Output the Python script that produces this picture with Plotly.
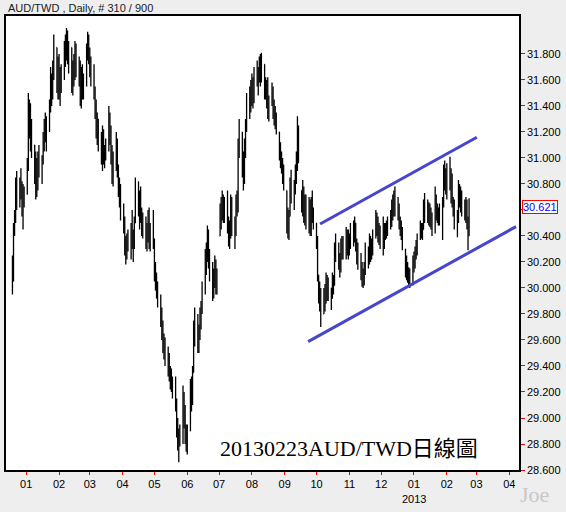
import pandas as pd
import plotly.graph_objects as go

# ---- data ----
dates = pd.bdate_range('2011-12-19', '2013-02-22')  # 310 daily bars

highs_m = [
    # Dec 2011
    [30.25, 30.50, 30.60, 30.85, 30.90, 30.85, 30.92, 30.82, 30.80, 30.78],
    # Jan 2012
    [31.00, 31.50, 31.45, 31.42, 31.30, 31.10, 31.05, 31.00, 31.05, 31.10, 31.02,
     31.20, 31.30, 31.35, 31.32, 31.45, 31.70, 31.65, 31.75, 31.95, 31.85, 31.78],
    # Feb
    [31.80, 31.70, 31.72, 31.90, 31.95, 32.00, 31.98, 31.90, 31.85, 31.75, 31.80,
     31.90, 31.88, 31.78, 31.75, 31.70, 31.72, 31.65, 31.88, 31.97, 31.95],
    # Mar
    [31.85, 31.78, 31.72, 31.55, 31.45, 31.35, 31.30, 31.20, 31.25, 31.22, 31.10,
     31.15, 31.40, 31.35, 31.25, 31.10, 31.05, 31.20, 31.15, 30.95, 30.85, 30.80],
    # Apr
    [30.65, 30.55, 30.40, 30.42, 30.45, 30.50, 30.60, 30.45, 30.55, 30.85, 30.82,
     30.75, 30.78, 30.62, 30.58, 30.55, 30.50, 30.60, 30.62, 30.50, 30.60],
    # May
    [30.38, 30.20, 30.12, 30.05, 29.95, 29.85, 29.75, 29.65, 29.62, 29.55, 29.50,
     29.40, 29.38, 29.32, 29.32, 29.15, 29.00, 28.92, 28.95, 29.25, 29.20, 29.10, 28.95],
    # Jun
    [28.95, 29.30, 29.32, 29.40, 29.75, 29.85, 29.80, 29.72, 29.85, 29.90, 30.05,
     30.30, 30.35, 30.48, 30.45, 30.30, 30.20, 30.15, 30.25, 30.22, 30.15],
    # Jul
    [30.65, 30.70, 30.75, 30.72, 30.70, 30.75, 30.55, 30.52, 30.72, 30.70, 30.55,
     30.72, 30.75, 31.15, 31.30, 31.20, 31.05, 31.15, 31.30, 31.50, 31.55, 31.60],
    # Aug
    [31.65, 31.62, 31.70, 31.75, 31.70, 31.78, 31.80, 31.81, 31.72, 31.62, 31.60,
     31.62, 31.48, 31.58, 31.55, 31.45, 31.40, 31.35, 31.20, 31.12, 31.05, 31.00, 30.95],
    # Sep
    [30.75, 30.62, 30.60, 30.85, 30.91, 30.83, 30.95, 31.05, 31.32, 31.25,
     30.75, 30.83, 30.78, 30.72, 30.72, 30.70, 30.68, 30.70, 30.75, 30.62],
    # Oct
    [30.50, 30.40, 30.10, 30.05, 30.00, 30.00, 30.03, 30.12, 30.10, 30.08, 30.00,
     30.12, 30.10, 30.35, 30.42, 30.35, 30.27, 30.38, 30.40, 30.40, 30.47, 30.45, 30.45],
    # Nov
    [30.42, 30.50, 30.52, 30.55, 30.50, 30.38, 30.35, 30.27, 30.20, 30.15, 30.20,
     30.35, 30.32, 30.42, 30.40, 30.38, 30.45, 30.60, 30.58, 30.55, 30.50, 30.48],
    # Dec
    [30.55, 30.50, 30.50, 30.52, 30.55, 30.60, 30.68, 30.72, 30.75, 30.78, 30.70,
     30.65, 30.55, 30.52, 30.47, 30.30, 30.25, 30.20, 30.16, 30.15, 30.25],
    # Jan 2013
    [30.28, 30.32, 30.37, 30.42, 30.52, 30.50, 30.50, 30.68, 30.73, 30.68, 30.66,
     30.65, 30.62, 30.58, 30.78, 30.72, 30.65, 30.62, 30.65, 30.70, 30.95, 30.98, 30.92],
    # Feb 2013
    [30.96, 31.01, 30.92, 30.88, 30.70, 30.68, 30.60, 30.83, 30.80, 30.78, 30.75,
     30.68, 30.70, 30.68, 30.55, 30.69],
]

lows_m = [
    [29.95, 30.05, 30.40, 30.50, 30.60, 30.62, 30.68, 30.55, 30.45, 30.62],
    [30.72, 30.90, 31.15, 31.05, 31.00, 30.80, 30.68, 30.70, 30.75, 30.85, 30.80,
     30.95, 31.05, 31.12, 31.05, 31.20, 31.35, 31.40, 31.45, 31.60, 31.50, 31.45],
    [31.45, 31.40, 31.50, 31.60, 31.70, 31.75, 31.72, 31.65, 31.50, 31.48, 31.55,
     31.60, 31.62, 31.55, 31.40, 31.38, 31.45, 31.45, 31.55, 31.75, 31.72],
    [31.62, 31.55, 31.45, 31.30, 31.15, 31.10, 31.05, 30.95, 30.90, 30.95, 30.92,
     30.98, 31.05, 31.10, 30.95, 30.80, 30.78, 30.90, 30.85, 30.70, 30.62, 30.52],
    [30.42, 30.25, 30.18, 30.22, 30.28, 30.22, 30.30, 30.20, 30.30, 30.50, 30.55,
     30.45, 30.50, 30.40, 30.38, 30.30, 30.28, 30.35, 30.30, 30.28, 30.30],
    [30.05, 29.98, 29.92, 29.85, 29.70, 29.60, 29.50, 29.45, 29.40, 29.32, 29.28,
     29.22, 29.20, 29.15, 29.05, 28.85, 28.75, 28.66, 28.78, 28.80, 28.92, 28.80, 28.74],
    [28.72, 28.90, 29.05, 29.10, 29.35, 29.55, 29.50, 29.50, 29.60, 29.68, 29.80,
     29.95, 30.10, 30.20, 30.15, 30.05, 29.90, 29.92, 30.00, 29.95, 29.95],
    [30.40, 30.45, 30.52, 30.50, 30.50, 30.42, 30.32, 30.30, 30.38, 30.40, 30.30,
     30.40, 30.55, 30.58, 31.00, 30.85, 30.75, 30.80, 31.00, 31.20, 31.30, 31.35],
    [31.40, 31.38, 31.42, 31.55, 31.48, 31.58, 31.55, 31.58, 31.45, 31.45, 31.38,
     31.30, 31.28, 31.40, 31.30, 31.25, 31.22, 31.18, 30.98, 30.92, 30.88, 30.80, 30.75],
    [30.42, 30.38, 30.37, 30.55, 30.65, 30.60, 30.72, 30.80, 30.90, 30.96,
     30.58, 30.55, 30.50, 30.48, 30.45, 30.42, 30.40, 30.40, 30.50, 30.45],
    [30.30, 30.05, 29.88, 29.82, 29.70, 29.80, 29.82, 29.88, 29.90, 29.90, 29.83,
     29.92, 29.95, 30.02, 30.20, 30.14, 30.08, 30.12, 30.22, 30.22, 30.22, 30.25, 30.22],
    [30.25, 30.30, 30.32, 30.35, 30.28, 30.18, 30.14, 30.06, 30.01, 30.00, 30.02,
     30.10, 30.15, 30.18, 30.20, 30.22, 30.25, 30.38, 30.40, 30.35, 30.33, 30.30],
    [30.25, 30.30, 30.37, 30.38, 30.40, 30.45, 30.47, 30.52, 30.55, 30.55, 30.52,
     30.45, 30.40, 30.37, 30.29, 30.08, 30.06, 30.04, 30.02, 30.00, 30.02],
    [30.12, 30.15, 30.22, 30.25, 30.37, 30.38, 30.37, 30.45, 30.50, 30.50, 30.48,
     30.47, 30.45, 30.40, 30.42, 30.52, 30.50, 30.48, 30.48, 30.37, 30.62, 30.75, 30.72],
    [30.68, 30.75, 30.65, 30.62, 30.55, 30.45, 30.39, 30.50, 30.62, 30.58, 30.55,
     30.52, 30.50, 30.45, 30.29, 30.40],
]

closes_m = [
    [30.10, 30.45, 30.55, 30.78, 30.70, 30.80, 30.72, 30.60, 30.70, 30.72],
    [30.95, 31.40, 31.30, 31.25, 31.10, 30.90, 30.85, 30.80, 31.00, 30.95, 30.98,
     31.15, 31.25, 31.20, 31.28, 31.40, 31.60, 31.50, 31.70, 31.85, 31.60, 31.70],
    [31.55, 31.65, 31.62, 31.85, 31.80, 31.95, 31.78, 31.85, 31.60, 31.70, 31.65,
     31.85, 31.70, 31.72, 31.50, 31.60, 31.55, 31.58, 31.85, 31.92, 31.80],
    [31.68, 31.70, 31.50, 31.35, 31.25, 31.30, 31.12, 31.05, 31.15, 31.00, 31.05,
     31.10, 31.30, 31.20, 31.02, 30.90, 30.98, 31.10, 30.90, 30.80, 30.70, 30.60],
    [30.50, 30.30, 30.25, 30.38, 30.35, 30.45, 30.35, 30.40, 30.50, 30.80, 30.62,
     30.70, 30.55, 30.48, 30.50, 30.35, 30.45, 30.55, 30.38, 30.45, 30.35],
    [30.10, 30.05, 29.98, 29.90, 29.75, 29.68, 29.55, 29.58, 29.48, 29.40, 29.35,
     29.30, 29.25, 29.28, 29.10, 28.90, 28.80, 28.85, 28.82, 29.15, 29.00, 28.85, 28.80],
    [28.90, 29.25, 29.15, 29.35, 29.65, 29.78, 29.60, 29.68, 29.80, 29.85, 29.98,
     30.20, 30.28, 30.40, 30.22, 30.10, 30.05, 30.10, 30.18, 30.00, 30.10],
    [30.55, 30.62, 30.60, 30.68, 30.55, 30.50, 30.40, 30.45, 30.65, 30.48, 30.40,
     30.70, 30.60, 31.10, 31.20, 30.90, 30.95, 31.10, 31.25, 31.40, 31.45, 31.50],
    [31.60, 31.45, 31.65, 31.60, 31.65, 31.72, 31.62, 31.75, 31.55, 31.52, 31.45,
     31.40, 31.42, 31.50, 31.35, 31.30, 31.28, 31.22, 31.05, 30.98, 30.95, 30.85, 30.80],
    [30.50, 30.45, 30.55, 30.80, 30.70, 30.78, 30.90, 30.98, 31.20, 31.00,
     30.65, 30.75, 30.55, 30.62, 30.55, 30.60, 30.48, 30.62, 30.55, 30.50],
    [30.35, 30.10, 29.92, 29.90, 29.78, 29.92, 29.88, 30.05, 29.95, 30.00, 29.90,
     30.05, 30.02, 30.28, 30.30, 30.20, 30.15, 30.32, 30.30, 30.35, 30.40, 30.30, 30.38],
    [30.35, 30.45, 30.40, 30.50, 30.32, 30.22, 30.20, 30.10, 30.05, 30.10, 30.15,
     30.30, 30.22, 30.35, 30.28, 30.32, 30.40, 30.55, 30.50, 30.42, 30.45, 30.40],
    [30.45, 30.38, 30.45, 30.48, 30.50, 30.55, 30.62, 30.65, 30.70, 30.60, 30.62,
     30.50, 30.45, 30.40, 30.32, 30.12, 30.15, 30.08, 30.10, 30.05, 30.20],
    [30.22, 30.28, 30.32, 30.38, 30.48, 30.42, 30.45, 30.62, 30.58, 30.62, 30.55,
     30.60, 30.50, 30.45, 30.70, 30.58, 30.55, 30.58, 30.52, 30.65, 30.88, 30.85, 30.80],
    [30.90, 30.80, 30.85, 30.68, 30.60, 30.50, 30.55, 30.75, 30.70, 30.65, 30.62,
     30.60, 30.58, 30.50, 30.40, 30.621],
]
first_open = 30.05

month_ticks = ['2012-01-01', '2012-02-01', '2012-03-01', '2012-04-01', '2012-05-01',
               '2012-06-01', '2012-07-01', '2012-08-01', '2012-09-01', '2012-10-01',
               '2012-11-01', '2012-12-01', '2013-01-01', '2013-02-01', '2013-03-01',
               '2013-04-01']
month_labels = ['01', '02', '03', '04', '05', '06', '07', '08', '09', '10', '11', '12',
                '01', '02', '03', '04']

price_ticks = [28.6, 28.8, 29.0, 29.2, 29.4, 29.6, 29.8, 30.0, 30.2, 30.4, 30.6,
               30.8, 31.0, 31.2, 31.4, 31.6, 31.8]
# the 30.600 label is covered by the last-price box in the reference
price_labels = ['28.600', '28.800', '29.000', '29.200', '29.400', '29.600', '29.800',
                '30.000', '30.200', '30.400', '', '30.800', '31.000', '31.200',
                '31.400', '31.600', '31.800']

upper_x = ['2012-10-04 09:00', '2013-03-01 08:00']
upper_y = [30.492, 31.159]
lower_x = ['2012-09-23 02:00', '2013-04-07 07:00']
lower_y = [29.587, 30.472]

last_price = 30.621

# ---- assemble ----
highs = [v for m in highs_m for v in m]
lows = [v for m in lows_m for v in m]
closes = [v for m in closes_m for v in m]
prev = [first_open] + closes[:-1]
opens = [min(max(p, l), h) for p, l, h in zip(prev, lows, highs)]

fig = go.Figure()
fig.add_trace(go.Ohlc(
    x=dates, open=opens, high=highs, low=lows, close=closes,
    increasing=dict(line=dict(color='black', width=1.3)),
    decreasing=dict(line=dict(color='black', width=1.3)),
    tickwidth=0.5, showlegend=False, hoverinfo='skip'))

for xs, ys in ((upper_x, upper_y), (lower_x, lower_y)):
    fig.add_trace(go.Scatter(x=xs, y=ys, mode='lines',
                             line=dict(color='#4646CC', width=3),
                             showlegend=False, hoverinfo='skip'))

axis_font = dict(family='Liberation Sans, Arial, sans-serif', size=11, color='black')

fig.update_layout(
    width=566, height=512,
    margin=dict(l=4, r=47, t=16, b=42),
    paper_bgcolor='#EEEEEE', plot_bgcolor='white',
    showlegend=False,
    font=axis_font,
    xaxis=dict(type='date', range=['2011-12-12 21:56', '2013-04-10 02:53'],
               rangeslider=dict(visible=False),
               tickmode='array', tickvals=month_ticks, ticktext=month_labels,
               ticks='outside', ticklen=3, tickcolor='red', tickwidth=1,
               showgrid=False, zeroline=False,
               showline=True, linecolor='black', linewidth=1.5, mirror=True,
               tickfont=axis_font),
    yaxis=dict(side='right', range=[28.6, 32.092],
               tickmode='array', tickvals=price_ticks, ticktext=price_labels,
               ticks='outside', ticklen=4, tickcolor='red', tickwidth=1,
               showgrid=False, zeroline=False,
               showline=True, linecolor='black', linewidth=1.5, mirror=True,
               tickfont=axis_font),
)

fig.add_annotation(text='AUD/TWD , Daily, # 310 / 900', xref='paper', yref='paper',
                   x=0, y=1 + 8 / 454, xanchor='left', yanchor='middle', showarrow=False,
                   font=dict(family='Liberation Sans, Arial, sans-serif', size=11, color='#202020'))
fig.add_annotation(text='20130223AUD/TWD日線圖', xref='paper', yref='paper',
                   x=(217 - 4) / 515, y=(470 - 448) / 454, xanchor='left', yanchor='middle',
                   showarrow=False,
                   font=dict(family="Liberation Serif, 'Noto Sans CJK TC', serif", size=22,
                             color='black'))
fig.add_annotation(text=f'{last_price:.3f}', xref='paper', yref='y',
                   x=(522 - 4) / 515, y=last_price, xanchor='left', yanchor='middle',
                   showarrow=False, bgcolor='white', bordercolor='red', borderwidth=1,
                   borderpad=0,
                   font=dict(family='Liberation Sans, Arial, sans-serif', size=11, color='blue'))
fig.add_annotation(text='2013', xref='x', yref='paper', x='2013-01-01',
                   y=(470 - 499) / 454, xanchor='center', yanchor='middle', showarrow=False,
                   font=axis_font)
fig.add_annotation(text='Joe', xref='paper', yref='paper',
                   x=(535 - 4) / 515, y=(470 - 494) / 454, xanchor='center', yanchor='middle',
                   showarrow=False,
                   font=dict(family='Liberation Serif, serif', size=22, color='#C8C8C8'))

fig.write_html('out.html', config={'displayModeBar': False},
               post_script="document.body.style.margin='0';document.body.style.background='#EEEEEE';")
